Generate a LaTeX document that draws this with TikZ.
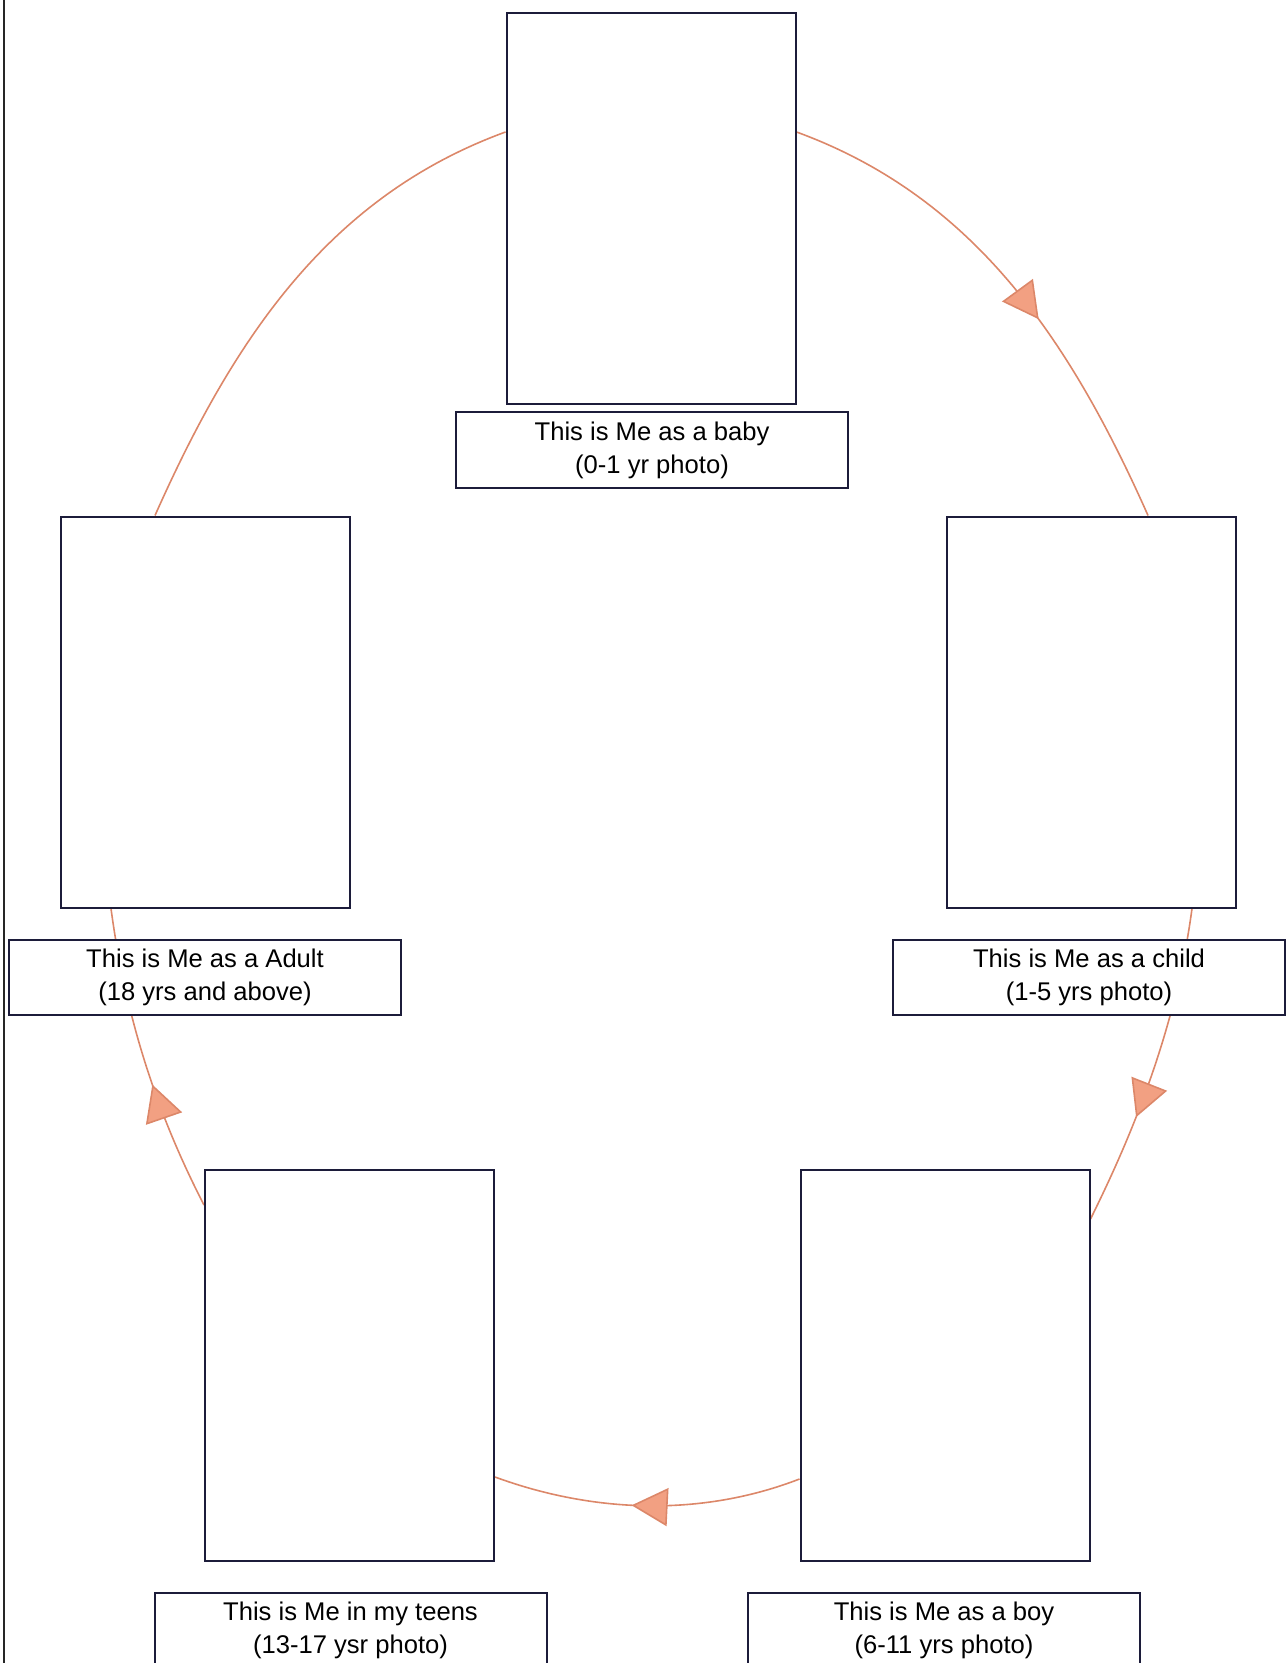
\documentclass[tikz,border=0pt]{standalone}
\usepackage{fontspec}
\setmainfont{Liberation Sans}
\usetikzlibrary{arrows.meta,decorations.markings,backgrounds,calc}
\definecolor{boxline}{RGB}{28,28,58}
\definecolor{arcline}{RGB}{220,135,105}
\definecolor{arrfill}{RGB}{242,160,130}
\tikzset{
  photo/.style={draw=boxline, line width=1pt, fill=white, minimum width=144.5pt, minimum height=195.5pt, inner sep=0pt},
  caption/.style={draw=boxline, line width=1pt, fill=white, minimum width=196pt, minimum height=37.5pt, inner sep=0pt, align=center, font=\fontsize{12.8}{16.5}\selectfont},
  cyc/.style={draw=arcline, line width=0.8pt},
  tipat/.style={postaction={decorate}, decoration={markings, mark=at position #1 with {\arrow{Triangle[length=18pt,width=19pt,fill=arrfill]}}}}
}
\begin{document}
\begin{tikzpicture}[x=0.5pt,y=-0.5pt]
\useasboundingbox (0,0) rectangle (1287,1663);
% left page border
\draw[line width=1pt, black!85] (4,0) -- (4,1663);
% photo frames
\node[photo] (P1) at (651,208.5) {};
\node[photo] (P2) at (1091,712) {};
\node[photo] (P3) at (945,1365) {};
\node[photo] (P4) at (349.5,1365) {};
\node[photo] (P5) at (205.5,712) {};
% captions
\node[caption] (L1) at (652,450) {This is Me as a baby\\(0-1 yr photo)};
\node[caption] (L2) at (1089,977) {This is Me as a child\\(1-5 yrs photo)};
\node[caption] (L3) at (944,1630.5) {This is Me as a boy\\(6-11 yrs photo)};
\node[caption] (L4) at (350.5,1630.5) {This is Me in my teens\\(13-17 ysr photo)};
\node[caption] (L5) at (205,977.5) {This is Me as a Adult\\(18 yrs and above)};
% connector end points on the frames
\coordinate (a5s) at ($(P5.north)+(-50.5,0)$);
\coordinate (a5e) at ($(P1.north west)+(0,120)$);
\coordinate (a1s) at ($(P1.north east)+(0,120)$);
\coordinate (a1e) at ($(P2.north)+(57,0)$);
\coordinate (a2s) at ($(P2.south)+(101,0)$);
\coordinate (a2e) at ($(P3.north east)+(0,50.5)$);
\coordinate (a3s) at ($(P3.south west)+(0,-82.5)$);
\coordinate (a3e) at ($(P4.south east)+(0,-84.5)$);
\coordinate (a4s) at ($(P4.north west)+(0,36.5)$);
\coordinate (a4e) at ($(P5.south)+(-94.5,0)$);
\begin{pgfonlayer}{background}
\draw[cyc] (a5s) .. controls +(80,-180) and +(-175,64) .. (a5e);
\draw[cyc, tipat=0.58] (a1s) .. controls +(175,64) and +(-80,-180) .. (a1e);
\draw[cyc, tipat=0.66] (a2s) .. controls +(-17.2,128.8) and +(35.5,-71.7) .. (a2e);
\draw[cyc, tipat=0.55] (a3s) .. controls +(-97.9,37.9) and +(98.6,36.2) .. (a3e);
\draw[cyc, tipat=0.42] (a4s) .. controls +(-36.6,-71.1) and +(17.2,128.8) .. (a4e);
\end{pgfonlayer}
\end{tikzpicture}
\end{document}
